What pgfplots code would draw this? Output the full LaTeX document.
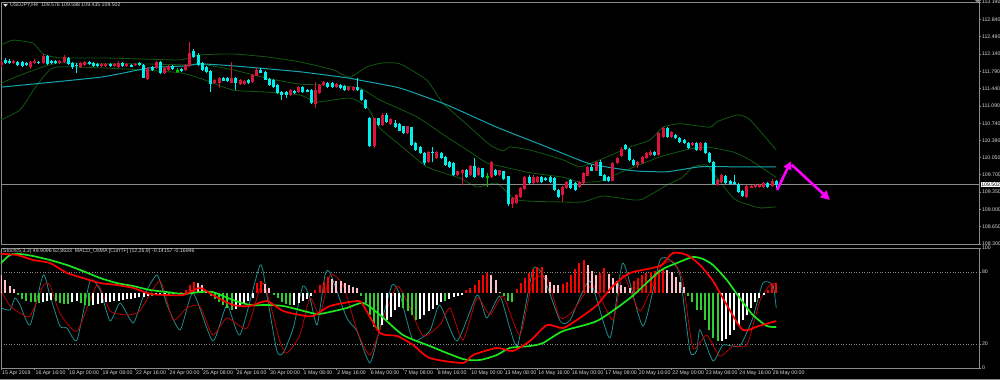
\documentclass[border=0pt]{standalone}
\usepackage{pgfplots}
\pgfplotsset{compat=1.18}
\usepackage{pgfplotstable}
\usepackage{fontspec}
\setmainfont{Liberation Sans}
\usetikzlibrary{arrows.meta}
\definecolor{cup}{RGB}{220,20,60}
\definecolor{cdn}{RGB}{0,240,240}
\definecolor{doji}{RGB}{0,200,0}
\definecolor{bb}{RGB}{16,90,16}
\definecolor{ma}{RGB}{20,165,175}
\definecolor{frame}{RGB}{140,140,140}
\definecolor{txt}{RGB}{215,215,215}
\definecolor{hred}{RGB}{255,0,0}
\definecolor{hpink}{RGB}{255,190,200}
\definecolor{hgreen}{RGB}{50,205,50}
\definecolor{stm}{RGB}{32,140,140}
\definecolor{sts}{RGB}{190,0,0}
\definecolor{mg}{RGB}{30,230,30}
\definecolor{mr}{RGB}{255,0,0}
\definecolor{arr}{RGB}{255,0,255}
\newcommand\tf{\fontsize{5.2}{6}\selectfont}
\begin{document}
\pgfplotstableread{
i o h l c t
0 111.92 112.02 111.88 111.98 1
1 112.02 112.06 111.94 111.96 -1
2 112.00 112.03 111.93 111.96 -1
3 111.96 112.02 111.94 112.00 1
4 111.98 112.00 111.90 111.92 -1
5 111.98 112.00 111.87 111.90 -1
6 111.96 111.98 111.89 111.92 -1
7 111.88 112.00 111.84 111.98 1
8 111.96 112.03 111.94 112.00 1
9 111.98 112.00 111.94 111.96 -1
10 111.96 112.14 111.94 112.10 1
11 112.10 112.13 111.92 111.94 -1
12 112.00 112.02 111.93 111.96 -1
13 111.99 112.01 111.93 111.96 -1
14 111.96 112.02 111.94 112.00 1
15 111.98 112.12 111.96 112.08 1
16 112.06 112.08 111.92 111.94 -1
17 111.96 111.98 111.84 111.88 -1
18 111.92 111.96 111.76 111.90 -1
19 111.88 111.98 111.86 111.96 1
20 111.92 112.00 111.90 111.98 1
21 111.98 112.00 111.92 111.94 -1
22 111.96 111.98 111.88 111.90 -1
23 111.94 111.96 111.88 111.90 -1
24 111.90 111.96 111.88 111.94 1
25 111.90 111.96 111.88 111.94 1
26 111.94 111.96 111.88 111.90 -1
27 111.90 111.96 111.88 111.94 1
28 111.88 111.99 111.86 111.96 1
29 111.96 111.98 111.88 111.90 -1
30 111.90 111.96 111.88 111.94 1
31 111.92 111.94 111.87 111.89 -1
32 111.92 111.96 111.90 111.94 1
33 111.96 111.98 111.90 111.92 -1
34 111.92 111.94 111.65 111.67 -1
35 111.65 111.88 111.61 111.86 1
36 111.88 111.90 111.80 111.82 -1
37 111.86 112.00 111.84 111.98 1
38 111.98 112.00 111.74 111.76 -1
39 111.76 111.88 111.74 111.86 1
40 111.82 111.92 111.80 111.90 1
41 111.90 111.92 111.82 111.84 -1
42 111.80 111.86 111.76 111.80 0
43 111.84 111.86 111.78 111.80 -1
44 111.82 111.94 111.80 111.92 1
45 111.90 112.38 111.88 112.16 1
46 112.20 112.24 112.06 112.08 -1
47 112.12 112.16 111.90 111.92 -1
48 111.96 111.98 111.80 111.82 -1
49 111.88 111.90 111.76 111.78 -1
50 111.80 111.82 111.37 111.55 -1
51 111.55 111.63 111.53 111.61 1
52 111.55 111.67 111.45 111.65 1
53 111.65 111.67 111.59 111.61 -1
54 111.65 111.67 111.57 111.59 -1
55 111.57 111.98 111.55 111.65 1
56 111.65 111.67 111.41 111.55 -1
57 111.53 111.63 111.51 111.61 1
58 111.53 111.61 111.51 111.59 1
59 111.61 111.63 111.53 111.55 -1
60 111.57 111.73 111.55 111.71 1
61 111.71 111.85 111.69 111.81 1
62 111.81 111.85 111.75 111.77 -1
63 111.77 111.79 111.61 111.63 -1
64 111.63 111.65 111.49 111.51 -1
65 111.61 111.63 111.45 111.47 -1
66 111.51 111.53 111.33 111.35 -1
67 111.37 111.39 111.21 111.31 -1
68 111.37 111.39 111.25 111.31 -1
69 111.31 111.43 111.29 111.41 1
70 111.39 111.41 111.33 111.35 -1
71 111.37 111.49 111.35 111.47 1
72 111.47 111.49 111.35 111.37 -1
73 111.41 111.43 111.37 111.39 -1
74 111.41 111.43 111.13 111.15 -1
75 111.13 111.57 111.05 111.41 1
76 111.35 111.53 111.33 111.51 1
77 111.51 111.59 111.49 111.57 1
78 111.55 111.57 111.45 111.47 -1
79 111.55 111.57 111.45 111.47 -1
80 111.47 111.55 111.45 111.53 1
81 111.51 111.53 111.43 111.45 -1
82 111.49 111.51 111.39 111.41 -1
83 111.41 111.49 111.39 111.47 1
84 111.41 111.49 111.39 111.47 1
85 111.47 111.65 111.39 111.41 -1
86 111.41 111.43 111.19 111.21 -1
87 111.21 111.23 111.03 111.05 -1
88 110.85 110.87 110.26 110.28 -1
89 110.28 110.85 110.24 110.83 1
90 110.83 110.85 110.69 110.71 -1
91 110.71 110.95 110.69 110.91 1
92 110.91 110.95 110.75 110.77 -1
93 110.73 110.85 110.71 110.83 1
94 110.75 110.81 110.65 110.67 -1
95 110.71 110.75 110.58 110.60 -1
96 110.67 110.69 110.52 110.54 -1
97 110.54 110.69 110.52 110.67 1
98 110.65 110.67 110.28 110.30 -1
99 110.34 110.36 110.18 110.20 -1
100 110.26 110.28 110.12 110.14 -1
101 110.14 110.16 109.90 109.94 -1
102 109.96 110.18 109.94 110.16 1
103 110.16 110.26 109.96 110.14 -1
104 110.04 110.18 110.02 110.16 1
105 110.14 110.16 110.02 110.04 -1
106 110.06 110.08 109.88 109.90 -1
107 109.96 109.98 109.84 109.86 -1
108 109.94 109.96 109.68 109.70 -1
109 109.70 109.78 109.68 109.76 1
110 109.74 109.82 109.49 109.80 1
111 109.80 109.82 109.64 109.66 -1
112 109.70 109.90 109.68 109.88 1
113 109.86 110.04 109.64 109.66 -1
114 109.70 109.86 109.68 109.84 1
115 109.82 109.84 109.64 109.66 -1
116 109.66 109.74 109.45 109.66 0
117 109.66 109.98 109.64 109.96 1
118 109.80 109.82 109.68 109.70 -1
119 109.70 109.80 109.68 109.78 1
120 109.76 109.78 109.60 109.62 -1
121 109.66 109.68 109.07 109.11 -1
122 109.11 109.25 109.03 109.23 1
123 109.13 109.31 109.11 109.29 1
124 109.25 109.45 109.23 109.43 1
125 109.41 109.67 109.39 109.65 1
126 109.65 109.69 109.51 109.53 -1
127 109.53 109.69 109.51 109.65 1
128 109.55 109.67 109.53 109.65 1
129 109.65 109.67 109.53 109.55 -1
130 109.63 109.65 109.57 109.59 -1
131 109.65 109.67 109.53 109.55 -1
132 109.63 109.65 109.37 109.39 -1
133 109.39 109.41 109.23 109.25 -1
134 109.29 109.47 109.15 109.45 1
135 109.43 109.57 109.41 109.55 1
136 109.59 109.61 109.41 109.43 -1
137 109.53 109.55 109.37 109.39 -1
138 109.45 109.57 109.43 109.55 1
139 109.53 109.75 109.51 109.73 1
140 109.69 109.87 109.67 109.85 1
141 109.85 109.89 109.77 109.79 -1
142 109.79 109.98 109.77 109.96 1
143 109.96 110.00 109.67 109.69 -1
144 109.69 109.71 109.57 109.59 -1
145 109.65 109.67 109.55 109.59 -1
146 109.59 109.96 109.57 109.94 1
147 109.94 110.06 109.92 110.04 1
148 110.08 110.26 110.06 110.22 1
149 110.30 110.32 110.20 110.22 -1
150 110.22 110.24 109.98 110.00 -1
151 110.00 110.02 109.88 109.90 -1
152 109.90 109.98 109.84 109.96 1
153 109.94 110.08 109.92 110.06 1
154 110.04 110.16 110.02 110.14 1
155 110.10 110.20 110.08 110.16 1
156 110.16 110.18 110.08 110.10 -1
157 110.10 110.56 110.08 110.54 1
158 110.46 110.66 110.44 110.64 1
159 110.64 110.66 110.44 110.46 -1
160 110.46 110.58 110.44 110.56 1
161 110.50 110.52 110.42 110.44 -1
162 110.44 110.46 110.34 110.36 -1
163 110.40 110.42 110.32 110.34 -1
164 110.34 110.36 110.22 110.24 -1
165 110.30 110.36 110.28 110.34 1
166 110.34 110.36 110.18 110.20 -1
167 110.20 110.36 110.18 110.34 1
168 110.34 110.36 110.12 110.14 -1
169 110.14 110.16 109.94 109.96 -1
170 109.96 109.98 109.49 109.51 -1
171 109.49 109.61 109.47 109.59 1
172 109.55 109.71 109.53 109.69 1
173 109.67 109.69 109.51 109.53 -1
174 109.57 109.59 109.49 109.51 -1
175 109.55 109.69 109.49 109.51 -1
176 109.51 109.53 109.33 109.35 -1
177 109.37 109.39 109.25 109.27 -1
178 109.25 109.49 109.23 109.47 1
179 109.45 109.49 109.43 109.47 1
180 109.45 109.51 109.43 109.49 1
181 109.45 109.51 109.43 109.49 1
182 109.45 109.55 109.43 109.53 1
183 109.53 109.55 109.43 109.45 -1
184 109.47 109.61 109.45 109.57 1
185 109.576 109.588 109.435 109.502 -1
}\candles
\pgfplotstableread{
i h k
0 18 2
1 13 2
2 7 2
3 4 2
4 -2 3
5 -6 3
6 -8 3
7 -9 3
8 -9 3
9 -10 3
10 -9 4
11 -8 4
12 -7 4
13 -8 3
14 -10 3
15 -11 3
16 -11 3
17 -9 4
18 -8 4
19 -10 3
20 -12 3
21 -13 3
22 -12 4
23 -11 4
24 -10 4
25 -9 4
26 -9 4
27 -8 4
28 -8 4
29 -7 4
30 -6 4
31 -6 4
32 -5 4
33 -4 4
34 -4 4
35 -3 4
36 -3 3
37 -2 4
38 -2 4
39 -1 4
40 -2 3
41 -1 4
42 -1 4
43 1 1
44 3 1
45 8 1
46 11 1
47 10 2
48 8 2
49 2 2
50 -3 3
51 -6 3
52 -9 3
53 -12 3
54 -15 3
55 -17 3
56 -16 4
57 -14 4
58 -11 4
59 -8 4
60 -5 4
61 10 1
62 12 1
63 9 2
64 5 2
65 -2 3
66 -5 3
67 -9 3
68 -11 3
69 -12 3
70 -12 4
71 -10 4
72 -8 4
73 -6 4
74 -3 4
75 3 1
76 8 1
77 11 1
78 16 1
79 14 2
80 12 2
81 12 2
82 10 2
83 8 2
84 6 2
85 5 2
86 -3 3
87 -10 3
88 -22 3
89 -34 3
90 -37 3
91 -32 4
92 -27 4
93 -24 4
94 -17 4
95 -14 4
96 -15 3
97 -18 3
98 -22 3
99 -27 3
100 -26 4
101 -22 4
102 -18 4
103 -16 4
104 -12 4
105 -9 4
106 -8 3
107 -6 4
108 -4 4
109 -3 4
110 -2 4
111 3 1
112 5 1
113 8 1
114 13 1
115 18 1
116 20 1
117 18 2
118 13 2
119 1 2
120 -3 3
121 -8 3
122 -9 3
123 4 1
124 10 1
125 15 1
126 20 1
127 24 1
128 26 1
129 26 1
130 18 2
131 11 2
132 8 2
133 8 2
134 9 1
135 11 1
136 18 1
137 24 1
138 30 1
139 33 1
140 28 2
141 22 2
142 18 2
143 20 1
144 25 1
145 19 2
146 15 2
147 12 2
148 8 2
149 6 2
150 5 2
151 12 1
152 15 1
153 18 1
154 20 1
155 21 1
156 22 1
157 23 1
158 25 1
159 23 2
160 21 2
161 16 2
162 11 2
163 6 2
164 -3 3
165 -9 3
166 -17 3
167 -17 3
168 -27 3
169 -37 3
170 -45 3
171 -48 3
172 -48 4
173 -46 4
174 -42 4
175 -37 4
176 -33 4
177 -27 4
178 -22 4
179 -15 4
180 -9 4
181 -5 4
182 -2 4
183 3 1
184 9 1
185 10 1
}\hist
\begin{tikzpicture}
\useasboundingbox (0,0) rectangle (1000pt,380pt);
\fill[black] (0,0) rectangle (1000pt,380pt);
% ---------------- main price panel ----------------
\begin{axis}[
  scale only axis, width=978pt, height=242pt, at={(1pt,136pt)}, anchor=south west,
  xmin=-0.05, xmax=233.4, ymin=108.30, ymax=113.19,
  axis line style={draw=frame, line width=0.8pt},
  xtick=\empty,
  ytick={108.300,108.650,109.000,109.350,109.700,110.050,110.390,110.740,111.090,111.440,111.790,112.140,112.490,112.840,113.190},
  yticklabels={108.300,108.650,109.000,109.350,109.700,110.050,110.390,110.740,111.090,111.440,111.790,112.140,112.490,112.840,113.190},
  ytick pos=right, yticklabel pos=right,
  tick align=outside, major tick length=2pt,
  tick style={draw=frame, line width=0.6pt},
  yticklabel style={font=\tf, text=txt, inner sep=0.5pt, xshift=0.3pt},
]
% Bollinger bands
\addplot[bb, line width=0.8pt, smooth, tension=0.3] coordinates {(0,112.32)(2.8,112.42)(7.6,112.36)(10,112.14)(14,112.06)(23.6,112.06)(33.1,112.04)(42.7,112.02)(47.4,112.12)(55.3,112.14)(63.4,112.08)(71.3,111.98)(79.2,111.82)(83.2,111.67)(87.3,111.88)(91.1,111.96)(95.2,111.94)(101.6,111.61)(105.4,111.15)(111.9,110.66)(116.7,110.30)(119.8,110.18)(121.4,110.26)(126.2,110.20)(134.1,110.00)(138.1,109.86)(142.9,110.00)(150.1,110.26)(154.8,110.40)(158,110.66)(162,110.73)(169.2,110.66)(170.8,110.77)(175.8,110.91)(178.7,110.81)(185,110.20)};
\addplot[bb, line width=0.8pt, smooth, tension=0.3] coordinates {(0,111.55)(4.5,111.71)(10,111.88)(14,111.96)(23.6,111.94)(33.1,111.94)(44.3,111.92)(47.4,111.94)(55.3,111.82)(63.4,111.65)(71.3,111.53)(79.2,111.51)(85.6,111.45)(90.4,111.21)(99.2,110.87)(106.4,110.46)(111.9,110.16)(115.9,109.94)(119.8,109.86)(126.2,109.74)(134.1,109.65)(138.1,109.55)(142.9,109.57)(147.7,109.74)(157.2,110.06)(164.4,110.22)(168.4,110.26)(174.7,110.16)(178.7,110.00)(184.9,109.65)};
\addplot[bb, line width=0.8pt, smooth, tension=0.3] coordinates {(0,110.81)(4.5,111.01)(8.5,111.51)(11.6,111.82)(14,111.88)(23.6,111.86)(33.1,111.82)(42.7,111.76)(47.4,111.65)(55.3,111.41)(63.4,111.37)(71.3,111.31)(75.4,111.17)(83.2,111.25)(87.3,111.07)(90.4,110.64)(95.2,110.30)(101.6,109.86)(109.5,109.63)(113.6,109.45)(118.3,109.53)(123.1,109.19)(133.4,109.15)(138.9,109.15)(143.6,109.27)(150.8,109.19)(153.2,109.21)(158.9,109.49)(162.7,109.65)(165.1,109.86)(168.4,109.90)(169.9,109.74)(174.7,109.23)(177,109.13)(181.1,109.03)(184.9,109.05)};
% moving average
\addplot[ma, line width=1pt, smooth, tension=0.3] coordinates {(0,111.47)(23.6,111.67)(35.5,111.86)(44.3,111.90)(47.4,111.94)(55.3,111.90)(71.3,111.78)(83.2,111.65)(85.6,111.61)(95.2,111.45)(106.4,111.11)(118.3,110.66)(130.3,110.26)(140.5,109.92)(150.8,109.78)(158.9,109.76)(166.8,109.86)(174.7,109.86)(184.9,109.86)};
% current price line
\addplot[frame, line width=0.6pt] coordinates {(-0.05,109.502) (233.4,109.502)};
% candles: wicks
\addplot[draw=none, mark=none, forget plot, error bars/.cd, y dir=both, y explicit, error mark=none,
  error bar style={draw=cup, line width=1pt}]
  table[x=i, y expr={\thisrow{t}==1 ? (\thisrow{h}+\thisrow{l})/2 : nan}, y error expr={(\thisrow{h}-\thisrow{l})/2}] {\candles};
\addplot[draw=none, mark=none, forget plot, error bars/.cd, y dir=both, y explicit, error mark=none,
  error bar style={draw=cdn, line width=1pt}]
  table[x=i, y expr={\thisrow{t}==-1 ? (\thisrow{h}+\thisrow{l})/2 : nan}, y error expr={(\thisrow{h}-\thisrow{l})/2}] {\candles};
\addplot[draw=none, mark=none, forget plot, error bars/.cd, y dir=both, y explicit, error mark=none,
  error bar style={draw=doji, line width=1pt}]
  table[x=i, y expr={\thisrow{t}==0 ? (\thisrow{h}+\thisrow{l})/2 : nan}, y error expr={(\thisrow{h}-\thisrow{l})/2}] {\candles};
% candles: bodies
\addplot[draw=none, mark=none, forget plot, error bars/.cd, y dir=both, y explicit, error mark=none,
  error bar style={draw=cup, line width=3pt}]
  table[x=i, y expr={\thisrow{t}==1 ? (\thisrow{o}+\thisrow{c})/2 : nan}, y error expr={abs(\thisrow{c}-\thisrow{o})/2+0.006}] {\candles};
\addplot[draw=none, mark=none, forget plot, error bars/.cd, y dir=both, y explicit, error mark=none,
  error bar style={draw=cdn, line width=3pt}]
  table[x=i, y expr={\thisrow{t}==-1 ? (\thisrow{o}+\thisrow{c})/2 : nan}, y error expr={abs(\thisrow{c}-\thisrow{o})/2+0.006}] {\candles};
\addplot[draw=none, mark=none, forget plot, error bars/.cd, y dir=both, y explicit, error mark=none,
  error bar style={draw=doji, line width=3pt}]
  table[x=i, y expr={\thisrow{t}==0 ? (\thisrow{o}+\thisrow{c})/2 : nan}, y error expr={0.006}] {\candles};
% magenta forecast arrows
\draw[arr, line width=2.6pt, -{Triangle[length=8pt,width=8pt]}] (axis cs:185.2,109.39) -- (axis cs:188.5,109.97);
\draw[arr, line width=2.6pt, -{Triangle[length=9pt,width=9pt]}] (axis cs:188.7,109.90) -- (axis cs:197.8,109.19);
\end{axis}
% ---------------- indicator panel: stochastic ----------------
\begin{axis}[
  scale only axis, width=978pt, height=120pt, at={(1pt,12pt)}, anchor=south west,
  xmin=-0.05, xmax=233.4, ymin=0, ymax=100,
  axis line style={draw=frame, line width=0.8pt},
  xtick={0,8,...,184},
  xticklabels={15 Apr 2019,16 Apr 16:00,18 Apr 00:00,19 Apr 08:00,22 Apr 16:00,24 Apr 00:00,25 Apr 08:00,26 Apr 16:00,30 Apr 00:00,1 May 08:00,2 May 16:00,6 May 00:00,7 May 08:00,8 May 16:00,10 May 00:00,13 May 08:00,14 May 16:00,16 May 00:00,17 May 08:00,20 May 16:00,22 May 00:00,23 May 08:00,24 May 16:00,28 May 00:00},
  xtick pos=bottom,
  ytick={0,20,80,100}, yticklabels={0,20,80,100},
  ytick pos=right, yticklabel pos=right,
  tick align=outside, major tick length=2pt,
  tick style={draw=frame, line width=0.6pt},
  yticklabel style={font=\tf, text=txt, inner sep=0.5pt, xshift=0.3pt},
  xticklabel style={font=\tf, text=txt, anchor=north west, inner sep=0.5pt, xshift=0.2pt, yshift=-0.3pt},
]
\addplot[frame, dotted, line width=0.6pt] coordinates {(-0.05,80) (233.4,80)};
\addplot[frame, dotted, line width=0.6pt] coordinates {(-0.05,20) (233.4,20)};
\addplot[stm, line width=0.8pt, smooth, tension=0.35] coordinates {(0,50)(2.1,48.3)(3.3,58.3)(4.5,52.5)(6.9,35.8)(10,77.5)(11.6,60.8)(14,35)(15.7,33.3)(18.1,23.3)(21.2,72.5)(23.6,65)(26,39.2)(28.4,54.2)(31.5,37.5)(33.8,58.3)(37.2,77.5)(39.6,52.5)(42.7,31.7)(45.8,62.5)(50.5,22.5)(53.9,52.5)(57,27.5)(61.8,85.8)(63.4,60.8)(65.8,14.2)(67.3,12.5)(69.7,33.3)(72,68.3)(73.7,58.3)(75.4,35.8)(77.3,77.5)(78.5,79.2)(82.5,41.7)(84.9,30.8)(88,4.2)(90.4,33.3)(93.3,69.2)(95.2,60.8)(98.3,23.3)(102.3,30.8)(104.7,52.5)(108.8,22.5)(113.6,60.8)(115.9,41.7)(119,60)(121.4,33.3)(123.3,19.2)(126.9,81.7)(129.3,77.5)(133.4,39.2)(135.8,40)(140.5,72.5)(145.3,25)(148.4,87.5)(153.2,35)(157.2,89.2)(159.6,90)(162,77.5)(164.4,14.2)(166,14.2)(166.8,31.7)(169.9,5.8)(172.3,19.2)(176.3,18.3)(179.4,41.7)(181.8,70.8)(184.2,69.2)(185,49.9)};
\addplot[sts, line width=0.8pt, smooth, tension=0.35] coordinates {(0,64.2)(2.1,51.7)(4.5,45.8)(6.9,43.3)(10,68.3)(11.6,69.2)(14,45.8)(18.1,30.8)(22.9,69.2)(26,47.5)(30,44.2)(33.1,47.5)(37.9,72.5)(41,40)(44.3,50)(47.4,51.7)(50.5,27.5)(53.9,41.7)(58.7,33.3)(62.5,70.8)(66.5,22.5)(68.2,12.5)(71.3,27.5)(73.7,58.3)(76.1,44.2)(78.5,77.5)(81.6,69.2)(84.9,31.7)(88,10.8)(91.1,39.2)(94.5,68.3)(97.6,50)(100.7,26.7)(104.7,35.8)(107.1,50)(110.2,23.3)(113.6,58.3)(116.7,44.2)(119.8,60)(123.8,27.5)(126.9,72.5)(130.3,75)(133.4,41.7)(136.5,47.5)(141.2,69.2)(146,40)(148.4,77.5)(152.5,47.5)(157.2,83.3)(160.3,89.2)(162.7,72.5)(165.1,16.7)(168.4,27.5)(171.5,10)(174.7,18.3)(178,19.2)(181.1,55.8)(183.5,69.2)(185,70.8)};
\end{axis}
% ---------------- indicator panel: OsMA histogram ----------------
\begin{axis}[
  scale only axis, width=978pt, height=120pt, at={(1pt,12pt)}, anchor=south west,
  xmin=-0.05, xmax=233.4, ymin=-75.3, ymax=44.7, hide axis,
]
\addplot[ycomb, draw=hred, line width=2pt, mark=none] table[x=i, y expr={\thisrow{k}==1 ? \thisrow{h} : nan}] {\hist};
\addplot[ycomb, draw=hpink, line width=2pt, mark=none] table[x=i, y expr={\thisrow{k}==2 ? \thisrow{h} : nan}] {\hist};
\addplot[ycomb, draw=hgreen, line width=2pt, mark=none] table[x=i, y expr={\thisrow{k}==3 ? \thisrow{h} : nan}] {\hist};
\addplot[ycomb, draw=white, line width=2pt, mark=none] table[x=i, y expr={\thisrow{k}==4 ? \thisrow{h} : nan}] {\hist};
\end{axis}
% ---------------- indicator panel: MACD lines ----------------
\begin{axis}[
  scale only axis, width=978pt, height=120pt, at={(1pt,12pt)}, anchor=south west,
  xmin=-0.05, xmax=233.4, ymin=0, ymax=100, hide axis,
]
\addplot[mg, line width=1.7pt, smooth, tension=0.4] coordinates {(0,87.5)(2.1,94.2)(4.5,95)(7.6,93.3)(11.6,90)(15.7,85.8)(19.5,80.8)(23.6,75)(27.6,70.8)(31.5,68.3)(35.5,65)(39.6,63.3)(43.4,61.7)(47.4,63.3)(50.5,63.3)(55.3,56.7)(59.4,52.5)(63.4,52.5)(67.3,51.7)(71.3,48.3)(75.4,45)(78.5,46.7)(82.5,50)(86.4,54.2)(90.4,44.2)(95.9,27.5)(102.3,18.3)(110.2,7.5)(114.3,6.7)(118.3,10.8)(121.4,16.7)(126.2,18.3)(129.3,20.8)(134.1,30.8)(142.2,39.2)(150.1,58.3)(157.2,80.8)(161.3,87.5)(165.1,92.5)(167.5,90.8)(169.9,85.8)(173.2,73.3)(176.3,58.3)(179.4,44.2)(182.8,35)(185,34.2)};
\addplot[mr, line width=1.7pt, smooth, tension=0.4] coordinates {(0,95)(3.8,94.2)(7.6,90)(11.6,87.5)(15.7,79.2)(19.5,75)(23.6,70.8)(27.6,69.2)(31.5,66.7)(35.5,61.7)(39.6,60.8)(43.4,60.8)(47.4,66.7)(50.5,60.8)(55.3,52.5)(59.4,51.7)(63.4,55.8)(67.3,47.5)(71.3,44.2)(74.4,43.3)(78.5,51.7)(84.9,55.8)(86.4,52.5)(90.4,29.2)(94.5,26.7)(98.3,19.2)(102.3,8.3)(110.2,4.2)(112.6,10.8)(118.3,16.7)(122.1,14.2)(126.2,22.5)(130.3,35.8)(134.1,33.3)(138.1,41.7)(142.2,52.5)(146,68.3)(150.1,79.2)(157.2,85)(160.3,95.8)(163.7,94.2)(166.8,85.8)(169.9,72.5)(173.2,52.5)(177,31.7)(180.8,35)(185,39.2)};
\end{axis}
% ---------------- texts ----------------
\fill[txt] (3pt,376.2pt) -- (8pt,376.2pt) -- (5.5pt,373.2pt) -- cycle;
\node[font=\tf, text=txt, anchor=west, inner sep=0pt] at (10pt,374.5pt) {USDJPY,H4\ \ 109.576 109.588 109.435 109.502};
\node[font=\tf, text=txt, anchor=west, inner sep=0pt] at (3pt,128.5pt) {Stoch(5,3,3) 49.9096 62.8633\ \ MACD\_OsMA [CurrTF] (12,26,9) -0.14157 -0.16946};
\node[font=\tf, text=black, fill=white, anchor=west, inner sep=0.6pt] at (980.5pt,195.5pt) {109.502};
\fill[frame] (975pt,380pt) -- (981pt,380pt) -- (978pt,376.5pt) -- cycle;
\draw[frame, line width=0.6pt] (0,0.6pt) -- (1000pt,0.6pt);
\end{tikzpicture}
\end{document}
